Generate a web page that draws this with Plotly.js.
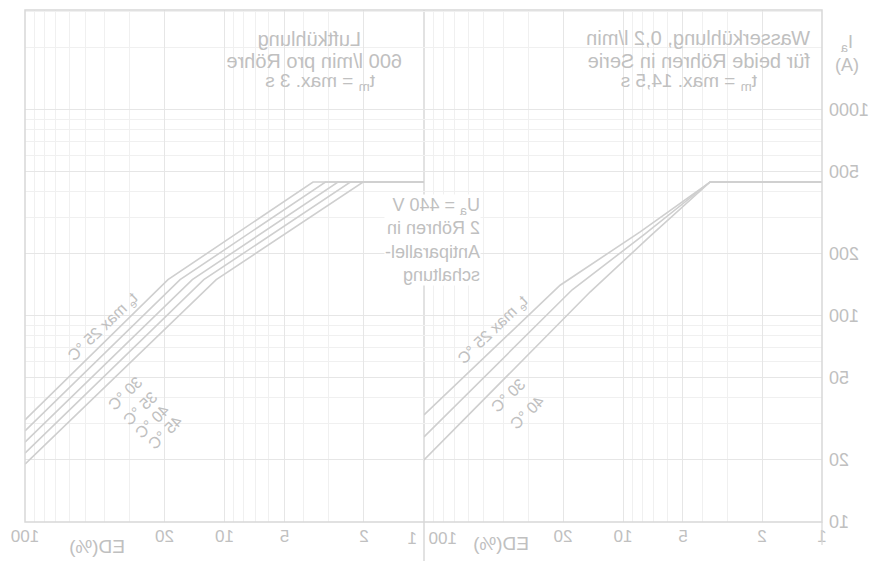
<!DOCTYPE html>
<html>
<head>
<meta charset="utf-8">
<script src="https://cdn.plot.ly/plotly-3.0.1.min.js"></script>
<style>
html, body { margin: 0; padding: 0; background: #ffffff; }
#chart { width: 873px; height: 561px; transform: scaleX(-1); transform-origin: center; }
</style>
</head>
<body>
<div id="chart"></div>
<script>
// ---- Data (ED in %, Ia in A) ----
// Water cooling (Wasserkühlung), three inlet temperatures
const edWater25 = [1, 3.65, 8.2, 20.7, 100];
const iaWater25 = [447, 447, 256, 141, 33.1];
const edWater30 = [1, 3.65, 7.75, 18.0, 100];
const iaWater30 = [447, 447, 250, 134, 25.9];
const edWater40 = [1, 3.65, 7.3, 14.6, 100];
const iaWater40 = [447, 447, 244, 131, 20.0];
const waterLabels = ["t<sub>e</sub> max 25 °C", "30 °C", "40 °C"];

// Air cooling (Luftkühlung), five air temperatures
const edAir25 = [1, 3.6, 19.2, 100];
const iaAir25 = [447, 447, 150, 31.3];
const edAir30 = [1, 3.12, 16.7, 100];
const iaAir30 = [447, 447, 150, 27.7];
const edAir35 = [1, 2.70, 14.5, 100];
const iaAir35 = [447, 447, 150, 24.4];
const edAir40 = [1, 2.34, 12.7, 100];
const iaAir40 = [447, 447, 150, 21.6];
const edAir45 = [1, 2.02, 11.0, 100];
const iaAir45 = [447, 447, 150, 19.1];
const airLabels = ["t<sub>e</sub> max 25 °C", "30 °C", "35 °C", "40 °C", "45 °C"];

// Tick labels
const yTicks = [10, 20, 50, 100, 200, 500, 1000];
const xTicksWater = [1, 2, 5, 10, 20];
const xTicksAir = [2, 5, 10, 20, 100];

// ---- Styling ----
const FONT = "Liberation Sans, Arial, sans-serif";
const TXT = "#c0c0c0";
const CURVE = "#cfcfcf";
const FRAME = "#d8d8d8";
const GRID = "#e6e6e6";
const MINOR = "#f0f0f0";

function curve(x, y, xa) {
  return { x: x, y: y, xaxis: xa, yaxis: "y", type: "scatter", mode: "lines",
           line: { color: CURVE, width: 1.6 }, hoverinfo: "skip", showlegend: false };
}

const traces = [
  curve(edWater25, iaWater25, "x"),
  curve(edWater30, iaWater30, "x"),
  curve(edWater40, iaWater40, "x"),
  curve(edAir25, iaAir25, "x2"),
  curve(edAir30, iaAir30, "x2"),
  curve(edAir35, iaAir35, "x2"),
  curve(edAir40, iaAir40, "x2"),
  curve(edAir45, iaAir45, "x2")
];

const minorX = [1,2,3,4,5,6,7,8,9,10,20,30,40,50,60,70,80,90,100];
const minorY = [10,20,30,40,50,60,70,80,90,100,200,300,400,500,600,700,800,900,1000,2000,3000];

const W = 873, H = 561, L = 51, R = 25, T = 10, B = 39;
const PW = W - L - R, PH = H - T - B;
const px = X => (X - L) / PW;            // pixel -> paper x
const py = Y => (H - B - Y) / PH;         // pixel -> paper y
const split = px(449);

function xaxisDef(domain, ticks) {
  return {
    type: "log", range: [0, 2], domain: domain, anchor: "y",
    tickmode: "array", tickvals: ticks, ticktext: ticks.map(String),
    ticks: "", showline: false, zeroline: false, ticklabelstandoff: 2,
    showgrid: true, gridcolor: GRID, gridwidth: 1,
    minor: { tickmode: "array", tickvals: minorX, showgrid: true, gridcolor: MINOR, gridwidth: 1, ticks: "" },
    tickfont: { family: FONT, size: 17, color: TXT }
  };
}

const f = s => ({ family: FONT, size: s, color: TXT });
const ann = (text, X, Y, opts) => Object.assign({
  text: text, xref: "paper", yref: "paper", x: px(X), y: py(Y),
  showarrow: false, font: f(18),
  xanchor: "center", yanchor: "middle"
}, opts || {});

const annotations = [
  // axis title
  ann("I<sub>a</sub><br>(A)", 26, 53, { font: f(18) }),
  // extra x labels near the split
  ann("100", 446, 538, { xanchor: "right", font: f(17) }),
  ann("1", 460, 538, { font: f(17) }),
  ann("ED(%)", 372, 543, { font: f(19) }),
  ann("ED(%)", 776, 546, { font: f(19) }),
  // panel headings: water
  ann("Wasserkühlung, 0,2 l/min", 61, 38, { xanchor: "left", font: f(20) }),
  ann("für beide Röhren in Serie", 61, 61, { xanchor: "left", font: f(20) }),
  ann("t<sub>m</sub> = max. 14,5 s", 184, 82, { font: f(19) }),
  // panel headings: air
  ann("Luftkühlung", 563, 39, { font: f(20) }),
  ann("600 l/min pro Röhre", 559, 61, { font: f(20) }),
  ann("t<sub>m</sub> = max. 3 s", 553, 82, { font: f(19) }),
  // operating conditions
  ann("U<sub>a</sub> = 440 V<br>2 Röhren in<br>Antiparallel-<br>schaltung", 392, 240,
      { xanchor: "left", align: "left", bgcolor: "#ffffff", borderpad: 0, font: f(18) }),
  // curve labels, water
  ann(waterLabels[0], 380, 330, { textangle: 44, font: f(16) }),
  ann(waterLabels[1], 365, 395, { textangle: 44, font: f(16) }),
  ann(waterLabels[2], 346, 412, { textangle: 44, font: f(16) }),
  // curve labels, air
  ann(airLabels[0], 770, 327, { textangle: 44, font: f(16) }),
  ann(airLabels[1], 748, 393, { textangle: 44, font: f(16) }),
  ann(airLabels[2], 733, 408, { textangle: 44, font: f(16) }),
  ann(airLabels[3], 721, 421, { textangle: 44, font: f(16) }),
  ann(airLabels[4], 708, 432, { textangle: 44, font: f(16) })
];

const shapes = [
  { type: "rect", xref: "paper", yref: "paper", x0: 0, x1: 1, y0: 0, y1: 1,
    line: { color: FRAME, width: 1.5 }, layer: "above" },
  { type: "line", xref: "paper", yref: "paper", x0: split, x1: split, y0: -0.076, y1: 1,
    line: { color: FRAME, width: 1.5 }, layer: "below" },
  { type: "line", xref: "paper", yref: "paper", x0: 0, x1: 0, y0: -0.045, y1: 0,
    line: { color: FRAME, width: 1.2 }, layer: "above" }
];

const layout = {
  width: W, height: H,
  margin: { l: L, r: R, t: T, b: B, pad: 0 },
  paper_bgcolor: "#ffffff", plot_bgcolor: "#ffffff",
  showlegend: false,
  font: { family: FONT, color: TXT },
  xaxis: xaxisDef([0, split], xTicksWater),
  xaxis2: xaxisDef([split, 1], xTicksAir),
  yaxis: {
    type: "log", range: [1, 3.485], anchor: "x",
    tickmode: "array", tickvals: yTicks, ticktext: yTicks.map(String),
    ticks: "", showline: false, zeroline: false, ticklabelstandoff: 6,
    showgrid: true, gridcolor: GRID, gridwidth: 1,
    minor: { tickmode: "array", tickvals: minorY, showgrid: true, gridcolor: MINOR, gridwidth: 1, ticks: "" },
    tickfont: f(18)
  },
  annotations: annotations,
  shapes: shapes
};

Plotly.newPlot("chart", traces, layout, { staticPlot: true, displayModeBar: false });
</script>
</body>
</html>
